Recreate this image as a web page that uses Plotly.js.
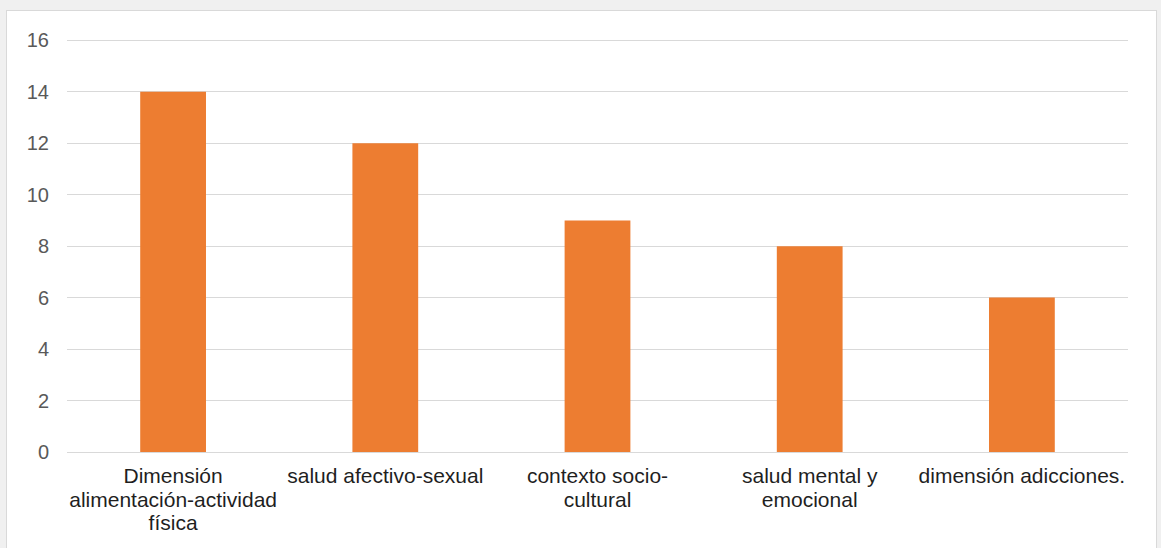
<!DOCTYPE html>
<html>
<head>
<meta charset="utf-8">
<script src="https://cdn.plot.ly/plotly-3.0.1.min.js"></script>
<style>
  html, body { margin: 0; padding: 0; background: #f0f0f0; width: 1161px; height: 548px; overflow: hidden; }
  #chart { position: absolute; left: 6px; top: 10px; width: 1151px; height: 548px; box-sizing: border-box; border: 1px solid #d9d9d9; background: #ffffff; }
</style>
</head>
<body>
<div id="chart"></div>
<script>
const categories = [
  "Dimensión<br>alimentación-actividad<br>física",
  "salud afectivo-sexual",
  "contexto socio-<br>cultural",
  "salud mental y<br>emocional",
  "dimensión adicciones."
];
const values = [14, 12, 9, 8, 6];
const yTicks = [0, 2, 4, 6, 8, 10, 12, 14, 16];

const trace = {
  type: 'bar',
  x: categories,
  y: values,
  marker: { color: '#ED7D31' },
  width: 0.31,
  hoverinfo: 'x+y'
};

const layout = {
  width: 1149,
  height: 546,
  margin: { l: 60, r: 28, t: 28, b: 105 },
  paper_bgcolor: '#ffffff',
  plot_bgcolor: '#ffffff',
  font: { family: 'Liberation Sans, Arial, sans-serif' },
  showlegend: false,
  xaxis: {
    type: 'category',
    showgrid: false,
    zeroline: false,
    showline: false,
    ticks: '',
    tickangle: 0,
    ticklabelstandoff: 9,
    tickfont: { size: 21, color: '#1f1f1f' },
    automargin: false
  },
  yaxis: {
    range: [0, 16.05],
    tickvals: yTicks,
    ticktext: yTicks.map(String),
    showgrid: true,
    gridcolor: '#d9d9d9',
    gridwidth: 1,
    zeroline: true,
    zerolinecolor: '#d9d9d9',
    zerolinewidth: 1,
    showline: false,
    ticks: '',
    ticklabelstandoff: 17,
    tickfont: { size: 20, color: '#595959' },
    automargin: false
  }
};

function tightenLines() {
  const factor = 1.12 / 1.3;
  document.querySelectorAll('.xtick text tspan.line').forEach(function (t) {
    const dy = parseFloat(t.getAttribute('dy'));
    if (!isNaN(dy) && dy !== 0) t.setAttribute('dy', (dy * factor).toFixed(3) + 'em');
  });
}

Plotly.newPlot('chart', [trace], layout, { displayModeBar: false, staticPlot: true }).then(tightenLines);
</script>
</body>
</html>
